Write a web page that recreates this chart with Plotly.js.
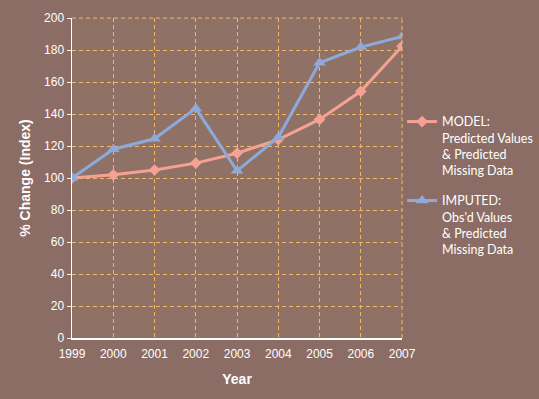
<!DOCTYPE html>
<html><head><meta charset="utf-8">
<script src="https://cdn.plot.ly/plotly-3.0.1.min.js"></script>
<style>body{margin:0;padding:0;}#chart{width:539px;height:399px;}</style>
</head><body><div id="chart"></div>
<script>
const years = [1999, 2000, 2001, 2002, 2003, 2004, 2005, 2006, 2007];
const modelValues = [100, 102, 105, 109.3, 115.5, 124, 136.6, 154.2, 182.4];
const imputedValues = [100, 118, 124.5, 143.5, 104.5, 125.5, 172, 181.8, 188.5];
const modelName = "MODEL:<br>Predicted Values<br>& Predicted<br>Missing Data";
const imputedName = "IMPUTED:<br>Obs'd Values<br>& Predicted<br>Missing Data";
const yTicks = [0, 20, 40, 60, 80, 100, 120, 140, 160, 180, 200];

const gridColor = '#F2B766';
const traces = [
  {x: years, y: modelValues, name: modelName, legendgroup: 'model', type: 'scatter', mode: 'lines+markers',
   line: {color: '#F5A292', width: 3}, marker: {symbol: 'diamond', size: 9, color: '#F5A292'}},
  {x: years, y: imputedValues, name: imputedName, legendgroup: 'imputed', type: 'scatter', mode: 'lines+markers',
   line: {color: '#8EAADB', width: 3}, marker: {symbol: 'triangle-up', size: 11, color: '#8EAADB'}}
];
const layout = {
  width: 539, height: 399,
  paper_bgcolor: '#8B6D65', plot_bgcolor: '#907166',
  margin: {l: 72, r: 135, t: 18, b: 61},
  font: {family: 'Liberation Sans, Arial, sans-serif', color: '#FFFFFF', size: 12},
  xaxis: {range: [1999, 2007], tickvals: years, ticktext: years.map(String),
    showline: true, linecolor: '#FFFFFF', linewidth: 1.5, mirror: false,
    showgrid: true, gridcolor: gridColor, griddash: '4px,3px', gridwidth: 1,
    zeroline: false, ticks: '', ticklabelstandoff: 4, tickfont: {size: 12, color: '#FFFFFF'},
    title: {text: 'Year', font: {size: 14, color: '#FFFFFF', family: 'Liberation Sans, Arial, sans-serif', weight: 'bold'}, standoff: 14}},
  yaxis: {range: [0, 200], tickvals: yTicks,
    showline: true, linecolor: '#FFFFFF', linewidth: 1.5,
    showgrid: true, gridcolor: gridColor, griddash: '4px,3px', gridwidth: 1,
    zeroline: false, ticks: 'outside', ticklen: 4, tickcolor: '#FFFFFF',
    tickfont: {size: 12, color: '#FFFFFF'},
    title: {text: '% Change (Index)', font: {size: 14, color: '#FFFFFF', family: 'Liberation Sans, Arial, sans-serif', weight: 'bold'}, standoff: 10}},
  legend: {xref: 'container', yref: 'container', x: 0.746, y: 0.732, xanchor: 'left', yanchor: 'top',
    bgcolor: 'rgba(0,0,0,0)', valign: 'top',
    font: {size: 12.5, color: '#FFFFFF', family: 'Lato, sans-serif'}, tracegroupgap: 11, itemwidth: 30},
  showlegend: true,
  shapes: [
    {type: 'line', xref: 'paper', yref: 'paper', x0: 0, x1: 1, y0: 1, y1: 1, line: {color: gridColor, width: 1, dash: '4px,3px'}},
    {type: 'line', xref: 'paper', yref: 'paper', x0: 1, x1: 1, y0: 0, y1: 1, line: {color: gridColor, width: 1, dash: '4px,3px'}}
  ]
};
Plotly.newPlot('chart', traces, layout, {displayModeBar: false, staticPlot: true});
</script></body></html>
